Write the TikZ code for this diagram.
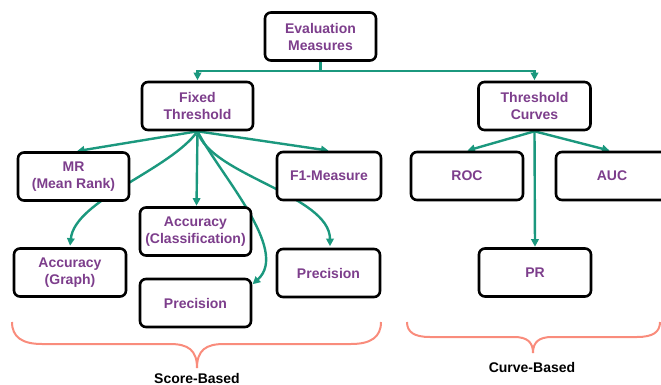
\documentclass[tikz,border=0pt]{standalone}
\usepackage{fontspec}
\setmainfont{Liberation Sans}
\usetikzlibrary{arrows.meta,calc}
\definecolor{linkgreen}{RGB}{27,152,126}
\definecolor{labelpurple}{RGB}{125,62,140}
\definecolor{bracesalmon}{RGB}{249,140,124}
\pgfdeclarelayer{bg}
\pgfsetlayers{bg,main}
\begin{document}
\begin{tikzpicture}[x=1pt,y=-1pt,
  box/.style={draw=black, line width=2.6pt, rounded corners=6pt, fill=white,
    text=labelpurple, font=\fontsize{14}{17}\selectfont\bfseries,
    align=center, inner sep=0pt, minimum height=48pt},
  link/.style={draw=linkgreen, line width=2.4pt,
    -{Triangle[width=7.5pt,length=7.5pt]}, shorten >=0.5pt},
  brace/.style={draw=bracesalmon, line width=2pt},
  caption/.style={font=\fontsize{14}{16}\selectfont\bfseries, text=black}]
\useasboundingbox (0,0) rectangle (661,385);

% boxes
\node[box, minimum width=111pt] (em)    at (320.5,36.5) {Evaluation\\Measures};
\node[box, minimum width=111pt] (ft)    at (197.5,106)  {Fixed\\Threshold};
\node[box, minimum width=112pt] (tc)    at (534.5,106)  {Threshold\\Curves};
\node[box, minimum width=111pt] (mr)    at (73.5,176.5) {MR\\(Mean Rank)};
\node[box, minimum width=104pt] (f1)    at (329,176)    {F1-Measure};
\node[box, minimum width=111pt] (accc)  at (195.5,231.5){Accuracy\\(Classification)};
\node[box, minimum width=112pt] (accg)  at (70,272.5)   {Accuracy\\(Graph)};
\node[box, minimum width=111pt] (precm) at (195.5,303)  {Precision};
\node[box, minimum width=103pt] (precr) at (328.5,273)  {Precision};
\node[box, minimum width=112pt] (roc)   at (467,176)    {ROC};
\node[box, minimum width=112pt] (auc)   at (612,176)    {AUC};
\node[box, minimum width=112pt] (pr)    at (535,272.5)  {PR};

\coordinate (split) at (320.5,71);

% connectors
\begin{pgfonlayer}{bg}
  \draw[link] (em.south) -- (split) -| (ft.north);
  \draw[link] (split) -| (tc.north);

  \draw[link] (ft.south) -- ($(mr.north)+(3,0)$);
  \draw[link] (ft.south) -- (f1.north);
  \draw[link] (ft.south) -- ($(accc.north)+(1,0)$);
  \draw[link] (ft.south) .. controls (170,170) and (75,200) .. ($(accg.north)+(0,-1)$);
  \draw[link] (ft.south) .. controls (220,175) and (290,250) .. (precm.18);
  \draw[link] (ft.south) .. controls (210,175) and (330,195) .. ($(precr.north)+(1.5,-1)$);

  \draw[link] (tc.south) -- (roc.north);
  \draw[link] (tc.south) -- ($(auc.north)+(-2,0)$);
  \draw[link] (tc.south) -- (pr.north);
\end{pgfonlayer}

% group braces
\draw[brace] (12,322) .. controls (12,337) and (22,344) .. (42,344)
  -- (170,344) .. controls (188,344) and (197,350) .. (197,368);
\draw[brace] (381,322) .. controls (381,337) and (371,344) .. (351,344)
  -- (224,344) .. controls (206,344) and (197,350) .. (197,368);
\draw[brace] (407,322) .. controls (407,332) and (414,337) .. (430,337)
  -- (514,337) .. controls (527,337) and (533,342) .. (533,353);
\draw[brace] (660,322) .. controls (660,332) and (653,337) .. (637,337)
  -- (552,337) .. controls (539,337) and (533,342) .. (533,353);

\node[caption] (scorecap) at (197,378) {Score-Based};
\node[caption] (curvecap) at (532,367) {Curve-Based};
\end{tikzpicture}
\end{document}
